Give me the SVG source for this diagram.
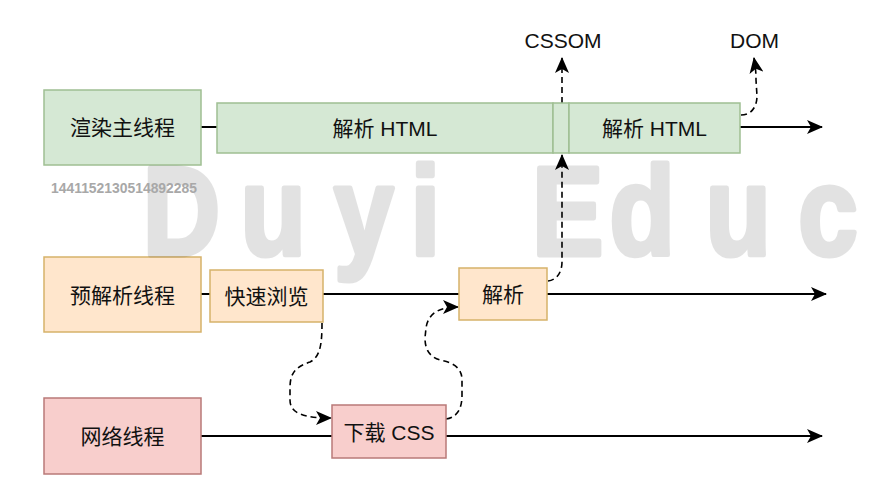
<svg xmlns="http://www.w3.org/2000/svg" width="892" height="494" viewBox="0 0 892 494">
<defs>
<style>
.t{font-family:"Liberation Sans","Noto Sans CJK SC",sans-serif;font-size:21px;fill:#111;text-anchor:middle;dominant-baseline:central}
.g rect{fill:#d5e8d4;stroke:#9fbf92;stroke-width:1.5}
.o rect{fill:#ffe6cc;stroke:#d6b26a;stroke-width:1.5}
.r rect{fill:#f8cecc;stroke:#b97a78;stroke-width:1.5}
.ln{stroke:#000;stroke-width:2;fill:none}
.ds{stroke:#000;stroke-width:1.6;fill:none;stroke-dasharray:6 4}
.wm{font-family:"Liberation Sans",sans-serif;font-weight:bold;fill:#000;stroke:#000;stroke-width:5;stroke-linejoin:round}
</style>
<marker id="ah" markerUnits="userSpaceOnUse" markerWidth="16" markerHeight="14" refX="15" refY="7" orient="auto">
<path d="M0,0 L16,7 L0,14 L4,7 z" fill="#000"/>
</marker>
</defs>
<rect width="892" height="494" fill="#fff"/>

<g id="connectors">
<line class="ln" x1="201" y1="127" x2="217" y2="127"/>
<line class="ln" x1="740" y1="127" x2="822" y2="127" marker-end="url(#ah)"/>
<line class="ln" x1="201" y1="294" x2="210" y2="294"/>
<line class="ln" x1="323" y1="294" x2="459" y2="294"/>
<line class="ln" x1="547" y1="294" x2="826" y2="294" marker-end="url(#ah)"/>
<line class="ln" x1="201" y1="436" x2="332" y2="436"/>
<line class="ln" x1="446" y1="436" x2="822" y2="436" marker-end="url(#ah)"/>
<path class="ds" d="M562,103 L562,58" marker-end="url(#ah)"/>
<path class="ds" d="M741,115 C752,115 757,106 757,96 L756,80 C756,70 755,64 754,58" marker-end="url(#ah)"/>
<path class="ds" d="M548,281 C557,280 562,272 562,262 L562,155" marker-end="url(#ah)"/>
<path class="ds" d="M322,323 C322,345 320,357 310,362 C296,367 290,372 290,388 L290,400 C290,414 305,418 331,418" marker-end="url(#ah)"/>
<path class="ds" d="M446,419 C458,417 462,408 462,395 L462,380 C462,366 450,362 440,360 C430,357 425,350 425,338 L426,328 C428,314 438,307 458,307" marker-end="url(#ah)"/>
</g>

<g id="main-thread" class="g">
<rect x="44" y="90" width="157" height="75"/>
<text class="t" x="122.5" y="127">渲染主线程</text>
</g>
<g id="parse-html-1" class="g">
<rect x="217" y="103" width="336" height="50"/>
<text class="t" x="385" y="128">解析 HTML</text>
</g>
<g id="parse-gap" class="g">
<rect x="553" y="103" width="16" height="50"/>
</g>
<g id="parse-html-2" class="g">
<rect x="569" y="103" width="171" height="50"/>
<text class="t" x="654.5" y="128">解析 HTML</text>
</g>
<g id="cssom">
<text class="t" x="563" y="40">CSSOM</text>
</g>
<g id="dom">
<text class="t" x="754.5" y="40">DOM</text>
</g>

<g id="preparse-thread" class="o">
<rect x="44" y="257" width="157" height="75"/>
<text class="t" x="122.5" y="295">预解析线程</text>
</g>
<g id="quick-scan" class="o">
<rect x="210" y="270" width="113" height="52"/>
<text class="t" x="266.5" y="296">快速浏览</text>
</g>
<g id="parse" class="o">
<rect x="459" y="268" width="88" height="52"/>
<text class="t" x="503" y="294">解析</text>
</g>

<g id="network-thread" class="r">
<rect x="44" y="398" width="157" height="76"/>
<text class="t" x="122.5" y="436">网络线程</text>
</g>
<g id="download-css" class="r">
<rect x="332" y="405" width="114" height="53"/>
<text class="t" x="389" y="432">下载 CSS</text>
</g>

<g id="watermark">
<g opacity="0.11">
<text class="wm" font-size="126" y="255" transform="scale(0.85,1)"><tspan x="168">D</tspan><tspan x="283">u</tspan><tspan x="393">y</tspan><tspan x="483">i</tspan><tspan x="626">E</tspan><tspan x="717">d</tspan><tspan x="830">u</tspan><tspan x="939">c</tspan></text>
</g>
<text style="font-family:'Liberation Sans',sans-serif;font-weight:bold;font-size:14px;fill:#a8a8a8" x="51" y="193" textLength="146" lengthAdjust="spacingAndGlyphs">1441152130514892285</text>
</g>
</svg>
